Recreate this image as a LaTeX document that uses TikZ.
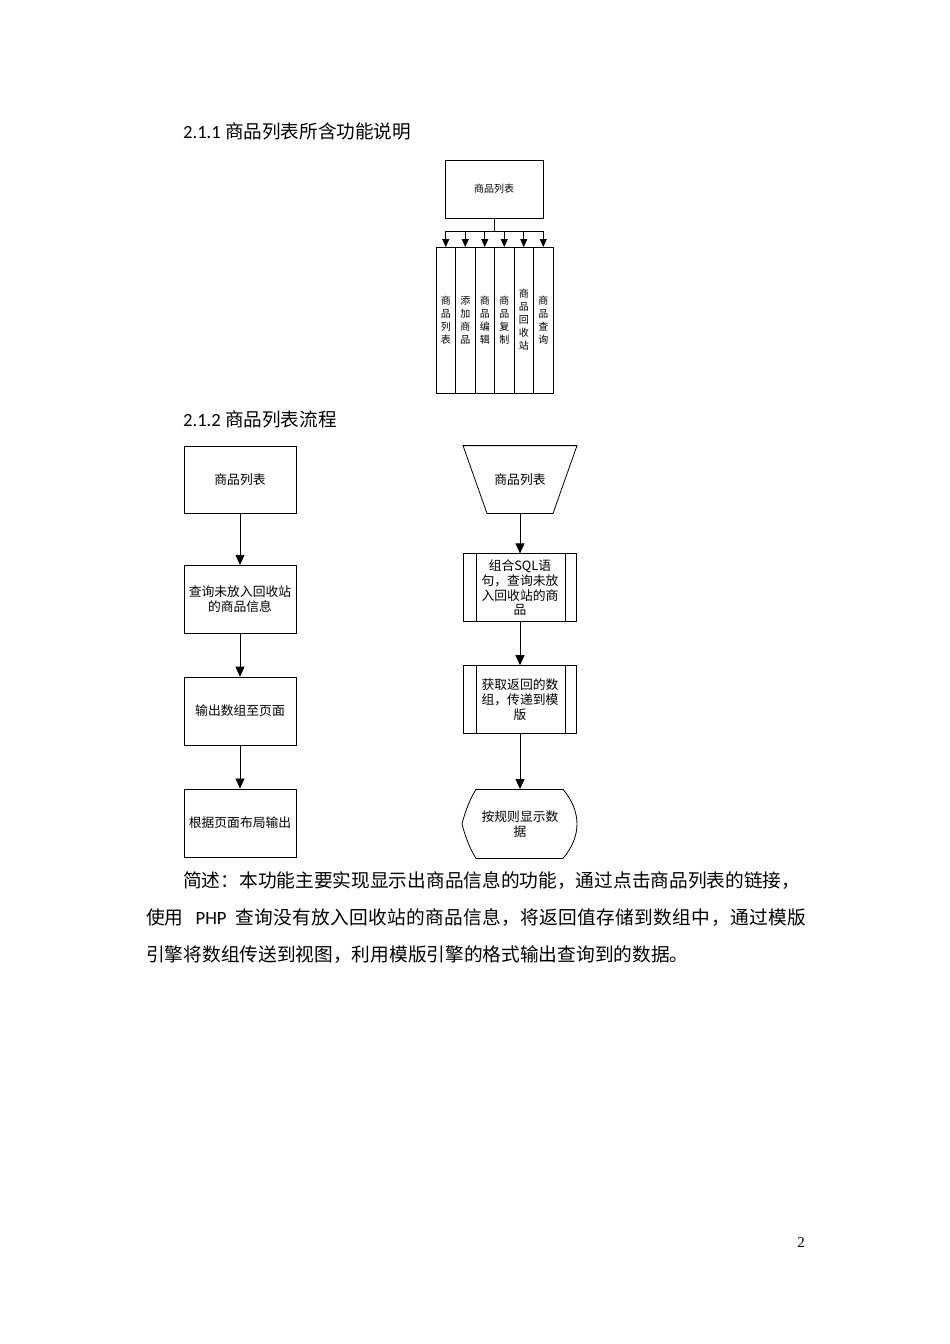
\documentclass[tikz,border=0pt]{standalone}
\usepackage{fontspec}
\setmainfont{Noto Sans CJK SC}
\newfontfamily\calib{Carlito}
\newfontfamily\pagefont{Liberation Serif}
\usetikzlibrary{positioning,arrows.meta}

\begin{document}
\begin{tikzpicture}[x=1pt,y=-1pt,
  box/.style={draw,line width=0.8pt,minimum width=112pt,minimum height=68pt,inner sep=2pt,align=center,font=\fontsize{12.8}{14.7}\selectfont},
  col/.style={draw,line width=0.8pt,minimum width=19.5pt,minimum height=146pt,inner sep=0pt,outer sep=0pt,align=center,font=\fontsize{10}{13}\selectfont},
  flow/.style={-{Triangle[width=9pt,length=10pt]},line width=0.8pt},
  bus/.style={-{Triangle[width=7pt,length=8pt]},line width=0.8pt},
  head/.style={anchor=west,inner sep=0pt,font=\fontsize{18.6}{20}\selectfont},
  para/.style={anchor=west,inner sep=0pt,font=\fontsize{18.7}{20}\selectfont}]
\path[use as bounding box,fill=white] (0,0) rectangle (950,1344);

   \node[head] (head1) at (183,131) {{\calib 2.1.1} 商品列表所含功能说明};

   % function overview
   \node[box,minimum width=98pt,minimum height=58pt,font=\fontsize{10}{13}\selectfont] (list) at (494,189) {商品列表};
   \node[col] (c1) at (445.75,320) {商\\品\\列\\表};
   \node[col] [right=0pt of c1] (c2) {添\\加\\商\\品};
   \node[col] [right=0pt of c2] (c3) {商\\品\\编\\辑};
   \node[col] [right=0pt of c3] (c4) {商\\品\\复\\制};
   \node[col] [right=0pt of c4] (c5) {商\\品\\回\\收\\站};
   \node[col] [right=0pt of c5] (c6) {商\\品\\查\\询};

   \coordinate (busy) at (494,231);
   \draw[line width=0.8pt] (list.south) -- (busy);
   \draw[line width=0.8pt] (c1.north |- busy) -- (c6.north |- busy);
   \foreach \c in {c1,c2,c3,c4,c5,c6}
      \draw[bus] (\c.north |- busy) -- (\c.north);

   \node[head] (head2) at (183,419) {{\calib 2.1.2} 商品列表流程};

   % left flow
   \node[box,minimum height=67pt] at (240,480) (la) {商品列表};
   \node[box] [below = 51pt of la] (lb) {查询未放入回收站\\的商品信息};
   \node[box] [below = 43pt of lb] (lc) {输出数组至页面};
   \node[box] [below = 43pt of lc] (ld) {根据页面布局输出};

   \draw[flow] (la) -- (lb);
   \draw[flow] (lb) -- (lc);
   \draw[flow] (lc) -- (ld);

   % right flow
   \node[box,draw=none,minimum width=115pt,minimum height=67pt] at (520,479.5) (ra) {商品列表};
   \draw[line width=0.8pt] ([xshift=-57pt]ra.north) -- ([xshift=57pt]ra.north)
      -- ([xshift=33pt]ra.south) -- ([xshift=-33pt]ra.south) -- cycle;
   \node[box,minimum width=113pt,inner xsep=14pt] [below = 40pt of ra] (rb) {组合SQL语\\句，查询未放\\入回收站的商\\品};
   \draw[line width=0.8pt] ([xshift=13pt]rb.north west) -- ([xshift=13pt]rb.south west);
   \draw[line width=0.8pt] ([xshift=-12pt]rb.north east) -- ([xshift=-12pt]rb.south east);
   \node[box,minimum width=113pt,inner xsep=14pt] [below = 43pt of rb] (rc) {获取返回的数\\组，传递到模\\版};
   \draw[line width=0.8pt] ([xshift=13pt]rc.north west) -- ([xshift=13pt]rc.south west);
   \draw[line width=0.8pt] ([xshift=-12pt]rc.north east) -- ([xshift=-12pt]rc.south east);
   \node[box,draw=none,minimum width=115pt,minimum height=69pt] [below = 55pt of rc] (rd) {按规则显示数\\据};
   \draw[line width=0.8pt] ([shift={(-44,-34.5)}]rd.center) -- ([shift={(43,-34.5)}]rd.center)
      .. controls ([shift={(52,-24)}]rd.center) and ([shift={(57,-12)}]rd.center) .. ([shift={(57,0)}]rd.center)
      .. controls ([shift={(57,12)}]rd.center) and ([shift={(52,24)}]rd.center) .. ([shift={(43,34.5)}]rd.center)
      -- ([shift={(-44,34.5)}]rd.center)
      .. controls ([shift={(-51,24)}]rd.center) and ([shift={(-56,8)}]rd.center) .. ([shift={(-58,0)}]rd.center)
      .. controls ([shift={(-56,-8)}]rd.center) and ([shift={(-51,-24)}]rd.center) .. cycle;

   \draw[flow] (ra.south) -- (rb);
   \draw[flow] (rb) -- (rc);
   \draw[flow] (rc) -- (rd.north);

   % summary text
   \node[para] (p1) at (183,881) {简述：本功能主要实现显示出商品信息的功能，通过点击商品列表的链接，};
   \node[para] (p2) at (146,918) {使用\kern12pt{\calib PHP}\kern9pt{\addfontfeature{LetterSpace=1.7}查询没有放入回收站的商品信息，将返回值存储到数组中，通过模版}};
   \node[para] (p3) at (146,955) {引擎将数组传送到视图，利用模版引擎的格式输出查询到的数据。};

   \node[font=\pagefont\fontsize{15}{15}\selectfont] (pnum) at (801,1243) {2};

\end{tikzpicture}
\end{document}
